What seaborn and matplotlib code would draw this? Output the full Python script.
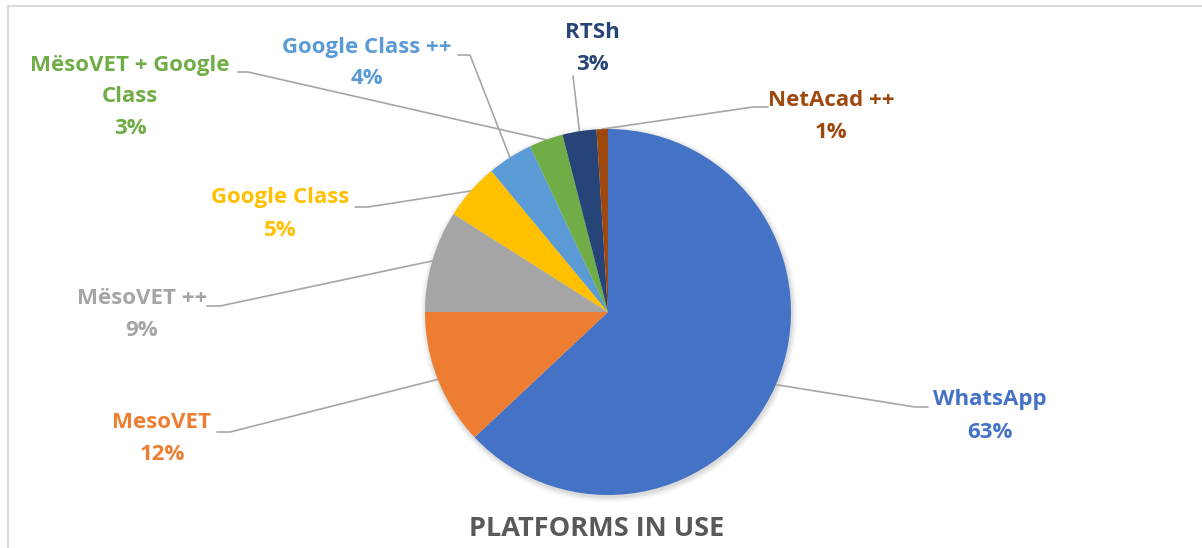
import numpy as np
import matplotlib
matplotlib.use("Agg")
import matplotlib.pyplot as plt
import seaborn as sns

# data
platforms = ["WhatsApp", "MesoVET", "MësoVET ++", "Google Class",
             "Google Class ++", "MësoVET + Google\nClass", "RTSh", "NetAcad ++"]
shares = [63, 12, 9, 5, 4, 3, 3, 1]
colors = ["#4472C4", "#ED7D31", "#A5A5A5", "#FFC000",
          "#5B9BD5", "#70AD47", "#264478", "#9E480E"]

sns.set_theme(style="white")
plt.rcParams['font.family'] = ['Open Sans', 'DejaVu Sans']

W, H = 1202, 548
fig = plt.figure(figsize=(W / 100, H / 100), dpi=100)
ax = fig.add_axes([0, 0, 1, 1])

cx, cy, r = 608, H - 312, 183

# soft shadow behind the pie
for i, a in enumerate([0.05, 0.04, 0.03, 0.02]):
    ax.add_patch(plt.Circle((cx + 1, cy - 2), r + 1 + i * 1.5, color="black",
                            alpha=a, lw=0, zorder=0))

wedges, _ = ax.pie(shares, colors=colors, startangle=90, counterclock=False,
                   center=(cx, cy), radius=r, frame=True,
                   wedgeprops=dict(linewidth=0, zorder=2))
ax.set_xlim(0, W)
ax.set_ylim(0, H)
ax.set_aspect("equal")
ax.axis("off")

# label layout: (text x, first line y, elbow x, elbow y, elbow end x) in image px
layout = [
    (990, 400, 928, 407, 915),
    (162, 423, 217, 432, 230),
    (142, 298, 207, 306, 220),
    (280, 198, 355, 207, 368),
    (367, 47, 458, 55, 470),
    (130, 65, 238, 72, 248),
    (592, 33, None, None, None),
    (831, 100, 768, 107, 753),
]

for w, name, val, col, lay in zip(wedges, platforms, shares, colors, layout):
    tx, ty, ex, ey, ex2 = lay
    mid = np.deg2rad((w.theta1 + w.theta2) / 2)
    px, py = cx + r * np.cos(mid), cy + r * np.sin(mid)
    lines = name.split("\n") + [f"{val}%"]
    for k, line in enumerate(lines):
        ax.text(tx, H - (ty + k * 32), line, color=col, fontsize=16,
                fontweight="bold", ha="center", va="center", zorder=5)
    if ex is None:
        ax.plot([573, px], [H - 76, py], color="#A6A6A6", lw=1.2, zorder=1)
    else:
        ax.plot([ex, ex2, px], [H - ey, H - ey, py], color="#A6A6A6",
                lw=1.2, zorder=1)

ax.text(597, H - 529, "PLATFORMS IN USE", color="#595959", fontsize=19.5,
        fontweight="bold", ha="center", va="center")

# chart frame (top and left edges)
ax.plot([8, W], [H - 6, H - 6], color="#D9D9D9", lw=1.5, clip_on=False)
ax.plot([8, 8], [H - 6, 0], color="#D9D9D9", lw=1.5, clip_on=False)

fig.savefig("out.png", dpi=100, facecolor="white")
